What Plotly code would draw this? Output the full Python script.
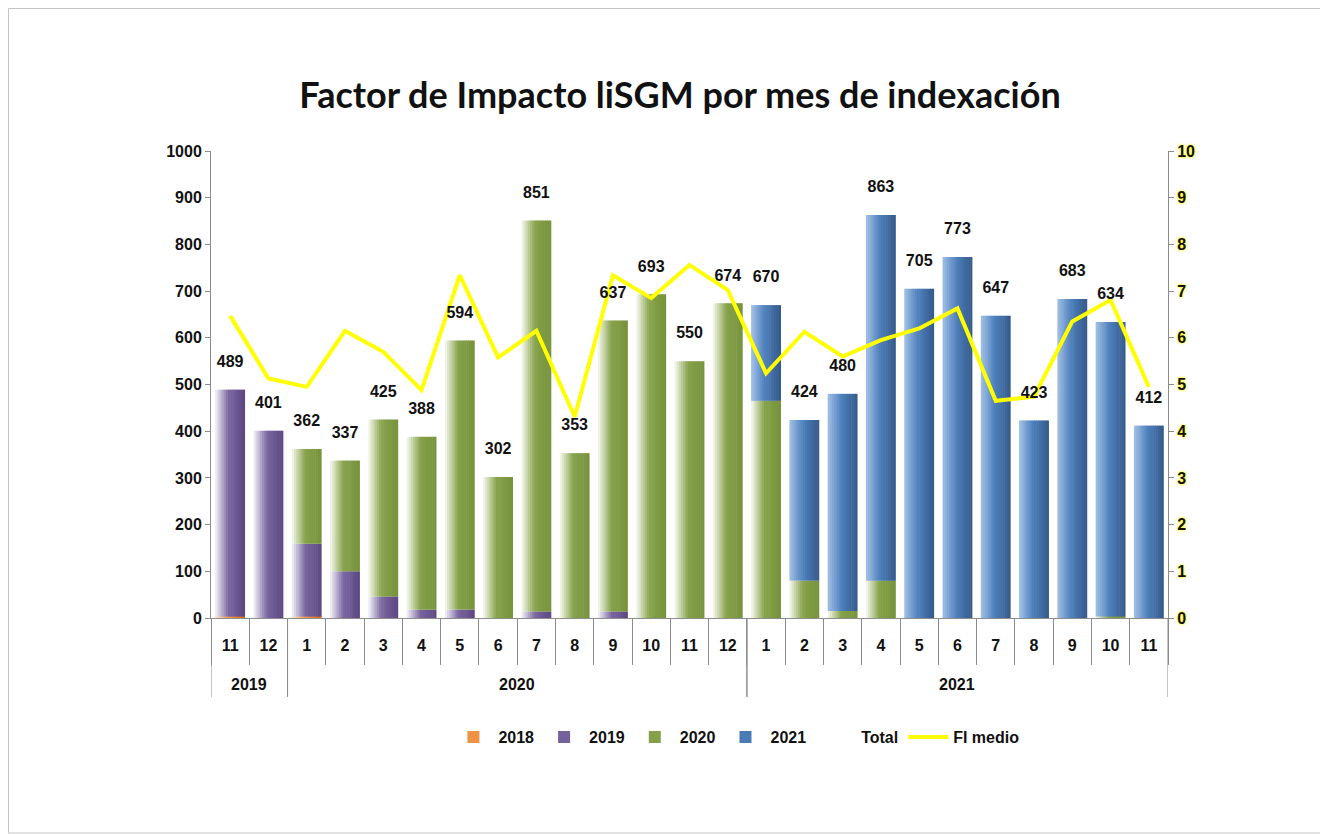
import plotly.graph_objects as go

# ---------------- data ----------------
years = ["2019", "2019"] + ["2020"] * 12 + ["2021"] * 11
months = ["11", "12"] + [str(m) for m in range(1, 13)] + [str(m) for m in range(1, 12)]

v2018 = [3, 0, 3, 0, 0, 0, 0, 0, 0, 0, 0, 0, 0, 0,
         0, 0, 0, 0, 0, 0, 0, 0, 0, 0, 0]
v2019 = [486, 401, 156, 100, 46, 18, 18, 0, 14, 0, 14, 0, 0, 0,
         0, 0, 0, 0, 0, 0, 0, 0, 0, 0, 0]
v2020 = [0, 0, 203, 237, 379, 370, 576, 302, 837, 353, 623, 693, 550, 674,
         465, 80, 15, 80, 0, 0, 0, 0, 0, 3, 0]
v2021 = [0] * 14 + [205, 344, 465, 783, 705, 773, 647, 423, 683, 631, 412]
totals = [489, 401, 362, 337, 425, 388, 594, 302, 851, 353, 637, 693, 550, 674,
          670, 424, 480, 863, 705, 773, 647, 423, 683, 634, 412]
fi_medio = [6.47, 5.13, 4.95, 6.15, 5.70, 4.88, 7.34, 5.58, 6.15, 4.31, 7.34, 6.85, 7.56, 7.02,
            5.24, 6.13, 5.60, 5.95, 6.20, 6.63, 4.65, 4.74, 6.35, 6.81, 4.95]

series_names = ["2018", "2019", "2020", "2021"]
series_vals = [v2018, v2019, v2020, v2021]
# gradient stops: (light left, main, dark right)
series_cols = [
    ("#FBE3CF", "#F09A50", "#E46C0A"),
    ("#F6F4FA", "#7A66A0", "#5B4682"),
    ("#F8FAF1", "#86A24A", "#76933C"),
    ("#A3C1E6", "#4F81BD", "#34598A"),
]

FONT = "Liberation Sans, Arial, sans-serif"
AXC = "#8C8C8C"


def hex2rgb(h):
    h = h.lstrip("#")
    return tuple(int(h[i:i + 2], 16) for i in (0, 2, 4))


def lerp(c1, c2, t):
    a, b = hex2rgb(c1), hex2rgb(c2)
    return "rgb(%d,%d,%d)" % tuple(round(a[i] + (b[i] - a[i]) * t) for i in range(3))


def grad(stops, t):
    light, mid, dark = stops
    if t < 0.45:
        return lerp(light, mid, t / 0.45)
    return lerp(mid, dark, (t - 0.45) / 0.55)


idx = list(range(len(months)))
fig = go.Figure()

BAR_W = 0.78
K = 14
sw = BAR_W / K
bases = [0] * len(totals)
for name, vals, cols in zip(series_names, series_vals, series_cols):
    for k in range(K):
        t = (k + 0.5) / K
        fig.add_trace(go.Bar(
            x=idx, y=vals, base=bases[:],
            name=name, legendgroup=name,
            showlegend=(k == K // 2),
            marker=dict(color=grad(cols, t), line=dict(width=0)),
            width=sw * 1.25 if k < K - 1 else sw,
            offset=-BAR_W / 2 + k * sw,
            hoverinfo="skip",
        ))
    bases = [b + v for b, v in zip(bases, vals)]

# Total labels (on a hidden overlay axis shifted slightly up)
fig.add_trace(go.Scatter(
    x=idx, y=totals, name="Total", mode="lines+text",
    line=dict(color="rgba(0,0,0,0)", width=0),
    text=[str(v) for v in totals], textposition="top center",
    textfont=dict(family=FONT, size=16, color="#111111", weight="bold"),
    yaxis="y3", cliponaxis=False,
))

# FI medio line
fig.add_trace(go.Scatter(
    x=idx, y=fi_medio, name="FI medio", mode="lines",
    line=dict(color="#FFFF00", width=4),
    yaxis="y2",
))

# year group labels + dividers
shapes = []
annotations = []
groups = []
start = 0
for i in range(1, len(years) + 1):
    if i == len(years) or years[i] != years[start]:
        groups.append((years[start], start, i - 1))
        start = i
for yr, a, b in groups:
    annotations.append(dict(x=(a + b) / 2, y=-66 / 467, xref="x", yref="paper",
                            text=yr, showarrow=False, yanchor="middle",
                            font=dict(family=FONT, size=16, color="#111111", weight="bold")))
    for xb in (a - 0.5, b + 0.5):
        shapes.append(dict(type="line", xref="x", yref="paper", x0=xb, x1=xb,
                           y0=0, y1=-79 / 467, line=dict(color=AXC, width=1)))

# outer frame
shapes.append(dict(type="rect", xref="paper", yref="paper",
                   x0=(0.5 - 203) / 957, x1=(1318 - 203) / 957,
                   y0=(610 - 825) / 467, y1=(610 - 0.5) / 467,
                   line=dict(color="#C4C4C4", width=1), layer="below"))

fig.update_layout(
    width=1328, height=834,
    paper_bgcolor="white", plot_bgcolor="white",
    margin=dict(l=203, r=168, t=143, b=224),
    barmode="overlay",
    title=dict(text="<b>Factor de Impacto liSGM por mes de indexación</b>",
               x=0.506, xanchor="center", y=1 - 87 / 834, yanchor="middle",
               font=dict(family="Lato, Open Sans, sans-serif", size=36, color="#111111")),
    xaxis=dict(
        range=[-0.5, len(months) - 0.5],
        tickmode="array", tickvals=idx, ticktext=months,
        showline=True, linecolor=AXC, linewidth=1,
        ticks="outside", ticklen=13, tickcolor="rgba(0,0,0,0)",
        minor=dict(tickmode="linear", tick0=-0.5, dtick=1, ticks="outside",
                   ticklen=46, tickcolor=AXC, tickwidth=1, showgrid=False),
        tickfont=dict(family=FONT, size=16, color="#111111", weight="bold"),
        showgrid=False, zeroline=False,
    ),
    yaxis=dict(
        range=[0, 1000], dtick=100, showgrid=False, zeroline=False,
        showline=True, linecolor=AXC, linewidth=1,
        ticks="outside", ticklen=5, tickcolor=AXC,
        tickfont=dict(family=FONT, size=16, color="#111111", weight="bold"),
    ),
    yaxis2=dict(
        range=[0, 10], dtick=1, overlaying="y", side="right", showgrid=False, zeroline=False,
        showline=True, linecolor=AXC, linewidth=1,
        ticks="outside", ticklen=5, tickcolor=AXC,
        tickfont=dict(family=FONT, size=16, color="#111111", weight="bold",
                      shadow="0px 0px 3px #FFFF00, 0px 0px 2px #FFFF00"),
    ),
    yaxis3=dict(range=[-40, 960], overlaying="y", visible=False),
    legend=dict(
        orientation="h", x=0.549, xanchor="center", y=-0.255, yanchor="middle",
        font=dict(family=FONT, size=16, color="#111111", weight="bold"),
        traceorder="normal", itemwidth=40, bgcolor="rgba(0,0,0,0)",
    ),
    showlegend=True,
    shapes=shapes,
    annotations=annotations,
)

fig.write_html("out.html")
